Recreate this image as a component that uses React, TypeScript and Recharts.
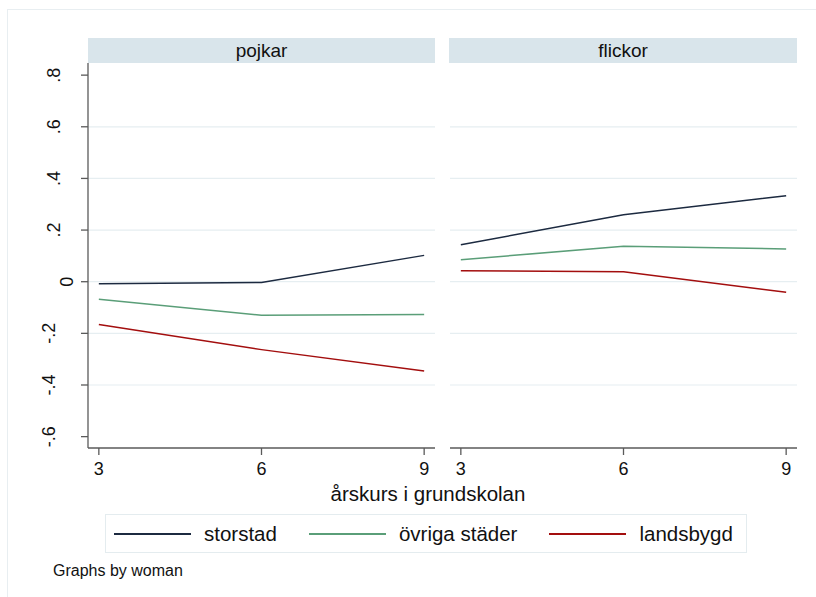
import React from "react";
import { LineChart, Line, XAxis, YAxis, CartesianGrid } from "recharts";

// grade levels on the x axis
const grades = [3, 6, 9];
const xTicks = [3, 6, 9];
const yTicks = [-0.6, -0.4, -0.2, 0, 0.2, 0.4, 0.6, 0.8];
const gridValues = [-0.4, -0.2, 0, 0.2, 0.4, 0.6];

// pojkar (boys)
const pojkarStorstad = [-0.008, -0.003, 0.102];
const pojkarOvriga = [-0.068, -0.13, -0.127];
const pojkarLandsbygd = [-0.166, -0.263, -0.346];

// flickor (girls)
const flickorStorstad = [0.143, 0.259, 0.333];
const flickorOvriga = [0.085, 0.137, 0.127];
const flickorLandsbygd = [0.042, 0.039, -0.041];

const seriesNames = ["storstad", "övriga städer", "landsbygd"];
const seriesColors = ["#1c2a40", "#5a9e78", "#a30e0e"];

const FONT = '"Liberation Sans", Arial, sans-serif';
const Y_DOMAIN: [number, number] = [-0.644, 0.847];
const X_DOMAIN: [number, number] = [2.8, 9.2];

const buildRows = (a: number[], b: number[], c: number[]) =>
  grades.map((g, i) => ({ grade: g, storstad: a[i], ovriga: b[i], landsbygd: c[i] }));

const pojkarData = buildRows(pojkarStorstad, pojkarOvriga, pojkarLandsbygd);
const flickorData = buildRows(flickorStorstad, flickorOvriga, flickorLandsbygd);
const dataKeys = ["storstad", "ovriga", "landsbygd"];

const fmtY = (v: number) => {
  if (Math.abs(v) < 1e-9) return "0";
  const s = Math.abs(v).toFixed(1).replace(/^0/, "");
  return (v < 0 ? "-" : "") + s;
};

const YTick = (props: any) => {
  const { y, payload } = props;
  const label = fmtY(payload.value);
  const x = label.length === 1 ? 73 : label.length === 2 ? 60 : 55;
  return (
    <text
      x={x}
      y={y}
      transform={`rotate(-90, ${x}, ${y})`}
      textAnchor="middle"
      fontSize={18}
      fontFamily={FONT}
      fill="#111"
    >
      {label}
    </text>
  );
};

const XTick = (props: any) => {
  const { x, payload } = props;
  return (
    <text x={x} y={475} textAnchor="middle" fontSize={18} fontFamily={FONT} fill="#111">
      {payload.value}
    </text>
  );
};

const axisStroke = "#5a5a5a";

function Panel({ data, showY }: { data: any[]; showY: boolean }) {
  return (
    <LineChart
      width={showY ? 445 : 347}
      height={480}
      data={data}
      margin={{ top: 63, right: showY ? 10 : 0, bottom: 2, left: 0 }}
    >
      <CartesianGrid
        vertical={false}
        horizontalValues={gridValues}
        stroke="#e6eef1"
        strokeWidth={1.2}
      />
      <XAxis
        dataKey="grade"
        type="number"
        domain={X_DOMAIN}
        ticks={xTicks}
        height={30}
        tickSize={7}
        tickMargin={8}
        stroke={axisStroke}
        strokeWidth={1.3}
        tick={<XTick />}
      />
      <YAxis
        type="number"
        domain={Y_DOMAIN}
        ticks={yTicks}
        width={88}
        hide={!showY}
        tickSize={7}
        stroke={axisStroke}
        strokeWidth={1.3}
        tick={<YTick />}
        allowDataOverflow
      />
      {dataKeys.map((k, i) => (
        <Line
          key={k}
          dataKey={k}
          stroke={seriesColors[i]}
          strokeWidth={1.5}
          dot={false}
          isAnimationActive={false}
        />
      ))}
    </LineChart>
  );
}

const headerStyle: React.CSSProperties = {
  position: "absolute",
  top: 38,
  height: 25,
  background: "#d9e5eb",
  textAlign: "center",
  fontSize: 19,
  lineHeight: "25px",
  color: "#111",
};

export default function App() {
  return (
    <div
      style={{
        position: "absolute",
        left: 0,
        top: 0,
        width: 816,
        height: 597,
        background: "#fff",
        fontFamily: FONT,
        overflow: "hidden",
      }}
    >
      <div
        style={{
          position: "absolute",
          left: 7,
          top: 9,
          width: 820,
          height: 600,
          borderLeft: "1px solid #e8eef1",
          borderTop: "1px solid #e8eef1",
        }}
      />
      <div style={{ ...headerStyle, left: 88, width: 347 }}>pojkar</div>
      <div style={{ ...headerStyle, left: 449, width: 348 }}>flickor</div>
      <div style={{ position: "absolute", left: 0, top: 0 }}>
        <Panel data={pojkarData} showY={true} />
      </div>
      <div style={{ position: "absolute", left: 450, top: 0 }}>
        <Panel data={flickorData} showY={false} />
      </div>
      <div
        style={{
          position: "absolute",
          left: 0,
          width: 856,
          top: 482,
          textAlign: "center",
          fontSize: 20.5,
          color: "#111",
        }}
      >
        årskurs i grundskolan
      </div>
      <div
        style={{
          position: "absolute",
          left: 105,
          top: 514,
          width: 642,
          height: 39,
          border: "1px solid #e4ecef",
          display: "flex",
          alignItems: "center",
          paddingLeft: 8,
          boxSizing: "border-box",
          whiteSpace: "nowrap",
        }}
      >
        {seriesNames.map((name, i) => (
          <div
            key={name}
            style={{ display: "flex", alignItems: "center", marginRight: 32, flexShrink: 0 }}
          >
            <div style={{ width: 77, height: 2, background: seriesColors[i], marginRight: 13 }} />
            <span style={{ fontSize: 20.5, color: "#111" }}>{name}</span>
          </div>
        ))}
      </div>
      <div
        style={{
          position: "absolute",
          left: 53,
          top: 562,
          fontSize: 16,
          color: "#111",
        }}
      >
        Graphs by woman
      </div>
    </div>
  );
}
